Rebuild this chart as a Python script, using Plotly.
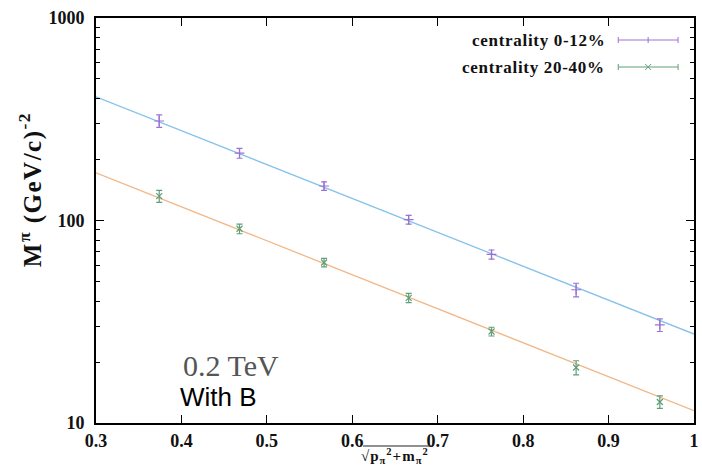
import plotly.graph_objects as go

# ---- data ----
x_vals = [0.374, 0.468, 0.567, 0.666, 0.763, 0.862, 0.960]
m_c012 = [310, 215, 148, 101, 68, 45.5, 30.5]
err_c012 = [22, 12, 7, 5, 3.5, 3.5, 2.2]
m_c2040 = [132, 91, 62, 41.5, 28.3, 18.8, 12.7]
err_c2040 = [9, 5, 3, 2.2, 1.4, 1.5, 0.9]
fit_x = [0.3, 1.0]
fit_c012 = [408, 27.5]
fit_c2040 = [172, 11.5]
x_ticks = [0.3, 0.4, 0.5, 0.6, 0.7, 0.8, 0.9, 1.0]
x_ticklabels = ["0.3", "0.4", "0.5", "0.6", "0.7", "0.8", "0.9", "1"]
legend_labels = ["centrality 0-12%", "centrality 20-40%"]

PURPLE = "#9b72d4"
GREEN = "#5f9f78"
BLUE = "#86c2ea"
ORANGE = "#f1b787"
SERIF = "Liberation Serif, Times New Roman, serif"

fig = go.Figure()
fig.add_trace(go.Scatter(x=fit_x, y=fit_c012, mode="lines",
                         line=dict(color=BLUE, width=1.3), showlegend=False, hoverinfo="skip"))
fig.add_trace(go.Scatter(x=fit_x, y=fit_c2040, mode="lines",
                         line=dict(color=ORANGE, width=1.3), showlegend=False, hoverinfo="skip"))
fig.add_trace(go.Scatter(x=x_vals, y=m_c012, mode="markers", name=legend_labels[0],
                         marker=dict(symbol="cross-thin", size=7, line=dict(color=PURPLE, width=1.2)),
                         error_y=dict(type="data", array=err_c012, color=PURPLE, thickness=1.2, width=3),
                         showlegend=False))
fig.add_trace(go.Scatter(x=x_vals, y=m_c2040, mode="markers", name=legend_labels[1],
                         marker=dict(symbol="x-thin", size=6, line=dict(color=GREEN, width=1.2)),
                         error_y=dict(type="data", array=err_c2040, color=GREEN, thickness=1.2, width=3),
                         showlegend=False))

# plot area in the reference: x 96..696 px, y 18..423 px
def px_x(p):
    return (p - 96) / 600.0

def px_y(p):
    return (423 - p) / 405.0

shapes = []
annotations = []
# ---- manual legend (text right-aligned, sample on the right, gnuplot-style) ----
for i, (lab, col, sym) in enumerate(zip(legend_labels, [PURPLE, GREEN], ["+", "x"])):
    yc = 40 + 27 * i
    annotations.append(dict(x=px_x(609), y=px_y(yc), xref="paper", yref="paper",
                            text="<b><span style='letter-spacing:0.7px'>" + lab + "</span></b>",
                            showarrow=False, xanchor="right",
                            yanchor="middle", font=dict(family=SERIF, size=17, color="#111")))
    shapes.append(dict(type="line", xref="paper", yref="paper", x0=px_x(620), x1=px_x(680),
                       y0=px_y(yc), y1=px_y(yc), line=dict(color=col, width=1)))
    for xe in (620, 680):
        shapes.append(dict(type="line", xref="paper", yref="paper", x0=px_x(xe), x1=px_x(xe),
                           y0=px_y(yc - 3), y1=px_y(yc + 3), line=dict(color=col, width=1)))
    if sym == "+":
        shapes.append(dict(type="line", xref="paper", yref="paper", x0=px_x(650), x1=px_x(650),
                           y0=px_y(yc - 3), y1=px_y(yc + 3), line=dict(color=col, width=1)))
    else:
        shapes.append(dict(type="line", xref="paper", yref="paper", x0=px_x(647), x1=px_x(653),
                           y0=px_y(yc - 3), y1=px_y(yc + 3), line=dict(color=col, width=1)))
        shapes.append(dict(type="line", xref="paper", yref="paper", x0=px_x(647), x1=px_x(653),
                           y0=px_y(yc + 3), y1=px_y(yc - 3), line=dict(color=col, width=1)))

# overline of the square root in the x title
shapes.append(dict(type="line", xref="paper", yref="paper", x0=px_x(364), x1=px_x(433),
                   y0=px_y(446), y1=px_y(446), line=dict(color="#222", width=1)))

annotations += [
    dict(x=px_x(30), y=px_y(190), xref="paper", yref="paper", textangle=-90,
         xanchor="center", yanchor="middle",
         text="<b><span style='letter-spacing:1.5px'>M<sup>π</sup> (GeV/c)<sup>-2</sup></span></b>",
         showarrow=False,
         font=dict(family=SERIF, size=25, color="#111")),
    dict(x=px_x(396), y=px_y(456), xref="paper", yref="paper",
         xanchor="center", yanchor="middle",
         text="<b><span style='letter-spacing:1px'>√p<sub>π</sub><sup>2</sup>+m<sub>π</sub><sup>2</sup></span></b>",
         showarrow=False,
         font=dict(family=SERIF, size=15, color="#111")),
    dict(x=px_x(181), y=px_y(365), xref="paper", yref="paper", xanchor="left", yanchor="middle",
         text="0.2 TeV", showarrow=False, font=dict(family=SERIF, size=30, color="#555")),
    dict(x=px_x(178), y=px_y(397), xref="paper", yref="paper", xanchor="left", yanchor="middle",
         text="With B", showarrow=False,
         font=dict(family="Liberation Sans, Arial, sans-serif", size=26, color="#000")),
]

fig.update_layout(
    width=702, height=469,
    margin=dict(l=96, r=3, t=18, b=46),
    paper_bgcolor="white", plot_bgcolor="white",
    showlegend=False,
    shapes=shapes, annotations=annotations,
    xaxis=dict(range=[0.3, 1.0], tickvals=x_ticks,
               ticktext=["<b>" + t + "</b>" for t in x_ticklabels],
               showgrid=False, zeroline=False, showline=True, linecolor="#000", linewidth=2,
               mirror="allticks", ticks="inside", ticklen=8, tickwidth=1, tickcolor="#000",
               tickfont=dict(family=SERIF, size=18, color="#111"),
               ticklabelstandoff=0),
    yaxis=dict(type="log", range=[1, 3], tickvals=[10, 100, 1000],
               ticktext=["<b>10</b>", "<b>100</b>", "<b>1000</b>"],
               showgrid=False, zeroline=False, showline=True, linecolor="#000", linewidth=2,
               mirror="allticks", ticks="inside", ticklen=8, tickwidth=1, tickcolor="#000",
               tickfont=dict(family=SERIF, size=18, color="#111"),
               ticklabelstandoff=6,
               minor=dict(ticks="inside", ticklen=4, tickcolor="#000",
                          tickvals=[20, 30, 40, 50, 60, 70, 80, 90, 200, 300, 400, 500, 600, 700, 800, 900])),
)

fig.write_html("out.html")
